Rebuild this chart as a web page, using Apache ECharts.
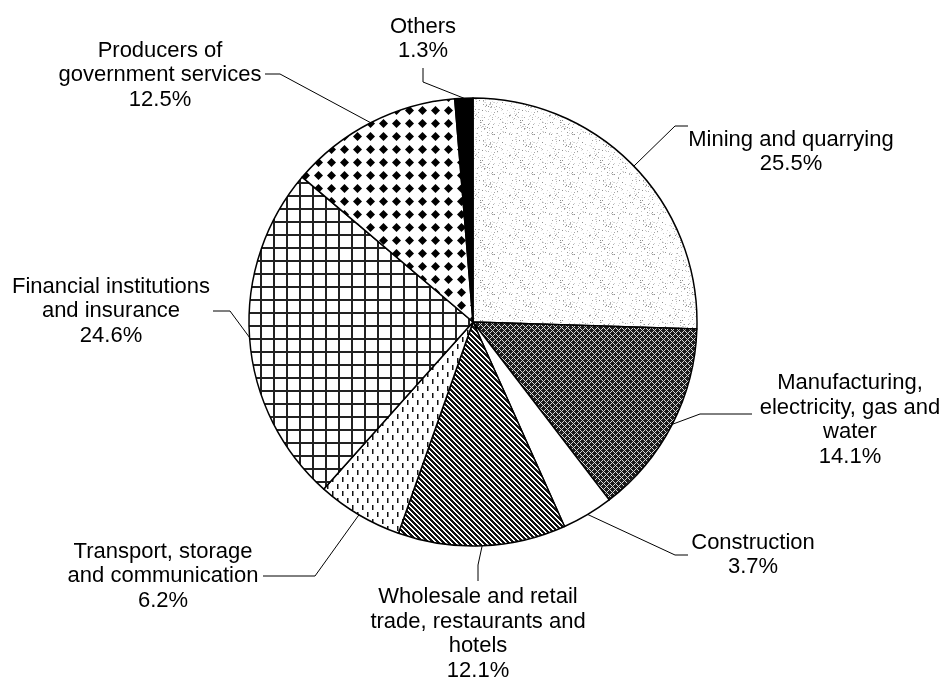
<!DOCTYPE html>
<html>
<head>
<meta charset="utf-8">
<script src="https://cdn.jsdelivr.net/npm/echarts@6/dist/echarts.min.js"></script>
<style>
  html, body { margin: 0; padding: 0; background: #fff; }
  #chart { width: 943px; height: 686px; }
</style>
</head>
<body>
<div id="chart"></div>
<script>
// chart data
const sectors = [
  'Mining and quarrying',
  'Manufacturing,\nelectricity, gas and\nwater',
  'Construction',
  'Wholesale and retail\ntrade, restaurants and\nhotels',
  'Transport, storage\nand communication',
  'Financial institutions\nand insurance',
  'Producers of\ngovernment services',
  'Others'
];
const shares = [25.5, 14.1, 3.7, 12.1, 6.2, 24.6, 12.5, 1.3];

// where each label sits, and the elbow/end of its leader line
const labelSpots = [
  { x: 791, y: 152, bend: [675, 126], end: [688, 126] },
  { x: 850, y: 420, bend: [700, 414], end: [752, 414] },
  { x: 753, y: 555, bend: [675, 555], end: [688, 555] },
  { x: 478, y: 634, bend: [478, 565], end: [478, 581] },
  { x: 163, y: 576, bend: [315, 576], end: [263, 576] },
  { x: 111, y: 311, bend: [230, 311], end: [213, 311] },
  { x: 160, y: 75,  bend: [280, 74],  end: [265, 74] },
  { x: 423, y: 39,  bend: [423, 82],  end: [423, 68] }
];

// --- fill textures (black & white print look) ---
function tile(w, h, draw) {
  const c = document.createElement('canvas');
  c.width = w; c.height = h;
  const ctx = c.getContext('2d');
  ctx.fillStyle = '#fff';
  ctx.fillRect(0, 0, w, h);
  draw(ctx, w, h);
  return c;
}
function noise(i, j) {
  const s = Math.sin(i * 12.9898 + j * 78.233) * 43758.5453;
  return s - Math.floor(s);
}

const stipple = tile(40, 40, (ctx, w, h) => {
  for (let i = 0; i < w; i++) {
    for (let j = 0; j < h; j++) {
      if (noise(i, j) < 0.11) {
        const g = Math.round(140 + noise(j, i) * 95);
        ctx.fillStyle = `rgb(${g},${g},${g})`;
        ctx.fillRect(i, j, 1, 1);
      }
    }
  }
});

const crossHatch = tile(6, 6, (ctx, w, h) => {
  ctx.fillStyle = '#1c1c1c';
  ctx.fillRect(0, 0, w, h);
  for (let x = 0; x < w; x++) {
    for (let y = 0; y < h; y++) {
      if ((x + y) % 6 === 0 || (x - y + 6) % 6 === 0) {
        ctx.fillStyle = '#d8d8d8';
        ctx.fillRect(x, y, 1, 1);
      }
    }
  }
});

const stripes = tile(5, 5, (ctx, w, h) => {
  ctx.fillStyle = '#111';
  for (let x = 0; x < w; x++) {
    for (let y = 0; y < h; y++) {
      if ((x - y + 5) % 5 < 3) ctx.fillRect(x, y, 1, 1);
    }
  }
});

const dashes = tile(10, 14, (ctx) => {
  ctx.fillStyle = '#111';
  ctx.fillRect(2, 1, 1.5, 5);
  ctx.fillRect(7, 8, 1.5, 5);
});

const gridTile = tile(13, 13, (ctx, w, h) => {
  ctx.fillStyle = '#222';
  ctx.fillRect(0, 0, 2, h);
  ctx.fillRect(0, 0, w, 2);
});

const diamonds = tile(13, 13, (ctx) => {
  ctx.fillStyle = '#000';
  ctx.beginPath();
  ctx.moveTo(6.5, 2);
  ctx.lineTo(11, 6.5);
  ctx.lineTo(6.5, 11);
  ctx.lineTo(2, 6.5);
  ctx.closePath();
  ctx.fill();
});

const fills = [
  { image: stipple, repeat: 'repeat' },
  { image: crossHatch, repeat: 'repeat' },
  '#ffffff',
  { image: stripes, repeat: 'repeat' },
  { image: dashes, repeat: 'repeat' },
  { image: gridTile, repeat: 'repeat' },
  { image: diamonds, repeat: 'repeat' },
  '#000000'
];

const chart = echarts.init(document.getElementById('chart'), null, { renderer: 'canvas' });

chart.setOption({
  backgroundColor: '#fff',
  animation: false,
  series: [
    {
      type: 'pie',
      center: [473, 322],
      radius: 224,
      startAngle: 90,
      clockwise: true,
      avoidLabelOverlap: false,
      data: sectors.map((name, i) => ({
        name: name,
        value: shares[i],
        itemStyle: { color: fills[i] }
      })),
      itemStyle: {
        borderColor: '#000',
        borderWidth: 1.5
      },
      label: {
        show: true,
        position: 'outside',
        formatter: '{b}\n{c}%',
        color: '#000',
        fontFamily: 'Liberation Sans, Arial, sans-serif',
        fontSize: 22,
        lineHeight: 24.5,
        align: 'center'
      },
      labelLine: {
        show: true,
        length: 20,
        length2: 15,
        lineStyle: { color: '#000', width: 1 }
      },
      labelLayout: function (p) {
        const spot = labelSpots[p.dataIndex];
        const start = (p.labelLinePoints && p.labelLinePoints[0]) || spot.bend;
        return {
          x: spot.x,
          y: spot.y,
          align: 'center',
          verticalAlign: 'middle',
          labelLinePoints: [start, spot.bend, spot.end]
        };
      },
      emphasis: { disabled: true }
    }
  ]
});
</script>
</body>
</html>
